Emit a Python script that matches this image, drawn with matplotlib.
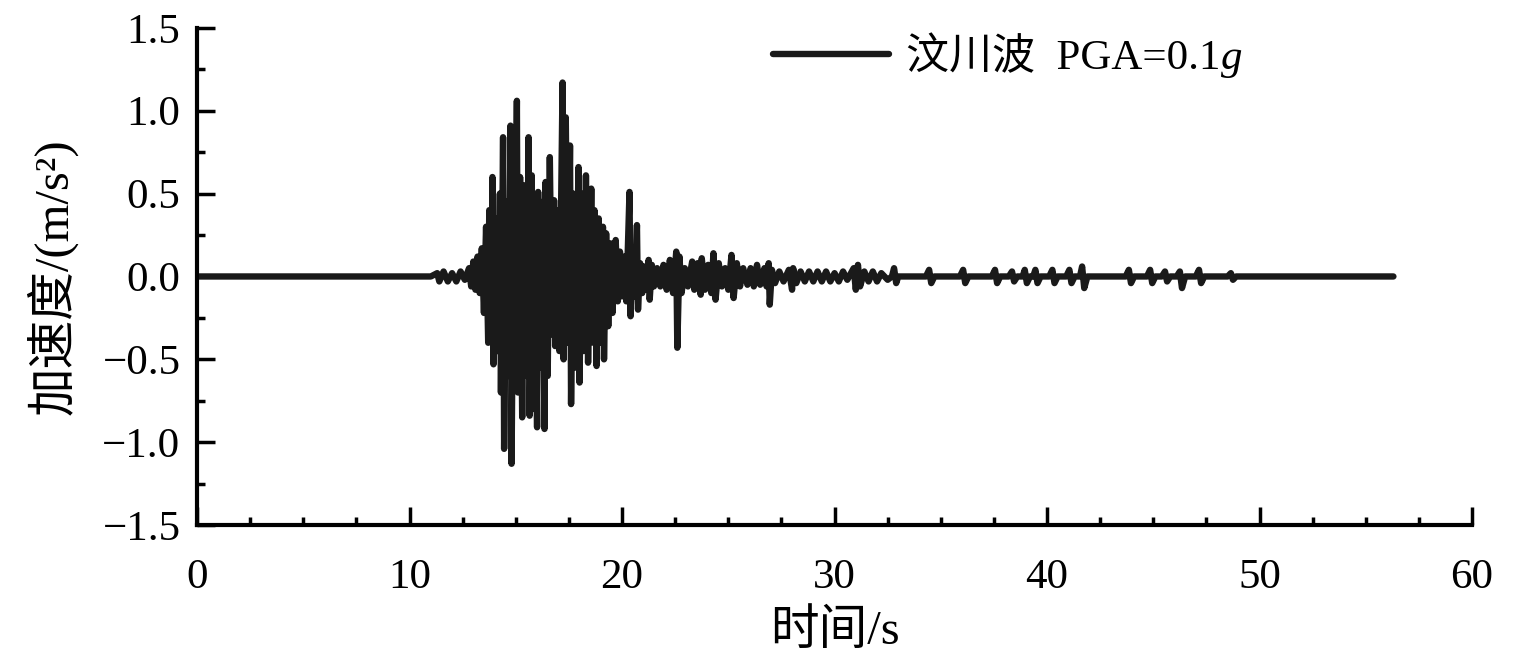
import matplotlib
matplotlib.use('Agg')
import matplotlib.pyplot as plt
from matplotlib.ticker import MultipleLocator

plt.rcParams['font.family'] = ['Liberation Serif', 'Noto Sans CJK SC']

# time (s) and acceleration (m/s^2), peaks
time = [0.0, 11.0, 11.3, 11.4, 11.6, 11.8, 12.0, 12.2, 12.4, 12.6, 12.8, 12.9,
        13.0, 13.1, 13.2, 13.3, 13.4, 13.5, 13.6, 13.7, 13.75, 13.85, 13.9, 13.95,
        14.05, 14.15, 14.25, 14.3, 14.4, 14.45, 14.55, 14.65, 14.75, 14.8, 14.9, 14.95,
        15.05, 15.1, 15.2, 15.3, 15.4, 15.5, 15.6, 15.65, 15.75, 15.8, 15.9, 16.0,
        16.05, 16.15, 16.25, 16.35, 16.4, 16.5, 16.6, 16.7, 16.8, 16.85, 16.95, 17.05,
        17.2, 17.25, 17.35, 17.45, 17.55, 17.6, 17.7, 17.8, 17.95, 18.0, 18.1, 18.2,
        18.3, 18.4, 18.55, 18.65, 18.7, 18.8, 18.9, 19.0, 19.1, 19.15, 19.25, 19.35,
        19.45, 19.55, 19.7, 19.8, 19.9, 20.0, 20.1, 20.2, 20.35, 20.4, 20.5, 20.6,
        20.7, 20.75, 20.85, 20.95, 21.05, 21.15, 21.25, 21.3, 21.4, 21.5, 21.65, 21.8,
        21.95, 22.1, 22.25, 22.4, 22.55, 22.6, 22.7, 22.8, 22.95, 23.1, 23.3, 23.4,
        23.55, 23.7, 23.75, 23.9, 24.05, 24.2, 24.3, 24.4, 24.55, 24.7, 24.85, 25.0,
        25.15, 25.25, 25.4, 25.55, 25.7, 25.9, 26.05, 26.2, 26.35, 26.5, 26.7, 26.8,
        26.9, 26.95, 27.05, 27.2, 27.4, 27.6, 27.85, 28.0, 28.05, 28.2, 28.4, 28.6,
        28.8, 29.0, 29.2, 29.4, 29.6, 29.8, 30.0, 30.2, 30.4, 30.6, 30.9, 31.0,
        31.1, 31.2, 31.4, 31.6, 31.8, 32.0, 32.2, 32.5, 32.7, 32.8, 32.9, 33.0,
        34.3, 34.45, 34.55, 34.7, 35.9, 36.05, 36.15, 36.3, 37.4, 37.55, 37.65, 37.8,
        38.2, 38.35, 38.45, 38.6, 38.85, 38.95, 39.05, 39.2, 39.35, 39.45, 39.55, 39.7,
        40.1, 40.25, 40.35, 40.5, 40.9, 41.05, 41.15, 41.3, 41.55, 41.65, 41.75, 41.9,
        43.7, 43.85, 43.95, 44.1, 44.7, 44.85, 44.95, 45.1, 45.4, 45.55, 45.65, 45.8,
        46.1, 46.25, 46.35, 46.5, 47.0, 47.15, 47.25, 47.4, 48.5, 48.65, 48.75, 48.9,
        56.3]
accel = [0.0, 0.0, 0.02, -0.03, 0.03, -0.03, 0.02, -0.03, 0.03, -0.02, 0.05, -0.06,
         0.09, -0.08, 0.12, -0.10, 0.17, -0.22, 0.30, -0.40, 0.40, -0.30, 0.60, -0.53,
         0.35, -0.45, 0.50, -0.70, 0.84, -1.04, 0.45, -0.60, 0.91, -1.13, 0.55, -0.50,
         1.06, -0.70, 0.60, -0.85, 0.55, -0.60, 0.84, -0.84, 0.61, -0.80, 0.45, -0.91,
         0.51, -0.55, 0.45, -0.92, 0.57, -0.60, 0.72, -0.35, 0.46, -0.42, 0.40, -0.45,
         1.17, -0.50, 0.96, -0.40, 0.79, -0.77, 0.50, -0.55, 0.66, -0.64, 0.50, -0.45,
         0.61, -0.52, 0.53, -0.40, 0.40, -0.54, 0.35, -0.40, 0.30, -0.50, 0.26, -0.30,
         0.20, -0.22, 0.22, -0.15, 0.15, -0.12, 0.12, -0.15, 0.51, -0.24, 0.15, -0.12,
         0.31, -0.20, 0.08, -0.10, 0.06, -0.08, 0.10, -0.14, 0.07, -0.06, 0.05, -0.06,
         0.07, -0.08, 0.10, -0.10, 0.15, -0.43, 0.12, -0.10, 0.05, -0.06, 0.09, -0.08,
         0.08, -0.11, 0.11, -0.08, 0.07, -0.10, 0.14, -0.14, 0.08, -0.06, 0.05, -0.08,
         0.13, -0.13, 0.08, -0.06, 0.05, -0.05, 0.05, -0.06, 0.07, -0.05, 0.05, -0.06,
         0.08, -0.17, 0.04, -0.04, 0.03, -0.03, 0.04, -0.08, 0.05, -0.04, 0.03, -0.03,
         0.03, -0.03, 0.03, -0.03, 0.03, -0.03, 0.02, -0.03, 0.03, -0.02, 0.05, -0.08,
         0.07, -0.06, 0.03, -0.03, 0.03, -0.03, 0.02, -0.02, 0.0, 0.05, -0.04, 0.0,
         0.0, 0.04, -0.04, 0.0, 0.0, 0.04, -0.04, 0.0, 0.0, 0.04, -0.04, 0.0,
         0.0, 0.03, -0.03, 0.0, 0.0, 0.04, -0.04, 0.0, 0.0, 0.04, -0.04, 0.0,
         0.0, 0.04, -0.04, 0.0, 0.0, 0.04, -0.04, 0.0, 0.0, 0.06, -0.07, 0.0,
         0.0, 0.04, -0.04, 0.0, 0.0, 0.04, -0.04, 0.0, 0.0, 0.03, -0.03, 0.0,
         0.0, 0.03, -0.07, 0.0, 0.0, 0.04, -0.04, 0.0, 0.0, 0.02, -0.02, 0.0,
         0.0]

ytick_vals = [-1.5, -1.0, -0.5, 0.0, 0.5, 1.0, 1.5]
ytick_text = ['\u22121.5', '\u22121.0', '\u22120.5', '0.0', '0.5', '1.0', '1.5']

fig = plt.figure(figsize=(15.16, 6.63), dpi=100)
ax = fig.add_axes([0.130, 0.208, 0.841, 0.750])

ax.plot(time, accel, color='#1a1a1a', lw=4.6, solid_joinstyle='round',
        solid_capstyle='round', label='汶川波  PGA=0.1')

ax.set_xlim(0, 60)
ax.set_ylim(-1.5, 1.5)
ax.xaxis.set_major_locator(MultipleLocator(10))
ax.xaxis.set_minor_locator(MultipleLocator(2.5))
ax.set_yticks(ytick_vals)
ax.set_yticklabels(ytick_text)
ax.yaxis.set_minor_locator(MultipleLocator(0.25))

for s in ['top', 'right']:
    ax.spines[s].set_visible(False)
for s in ['left', 'bottom']:
    ax.spines[s].set_linewidth(3)

ax.tick_params(which='major', direction='in', length=13, width=2.5, labelsize=31)
ax.tick_params(which='minor', direction='in', length=6, width=2.5)
ax.tick_params(axis='x', which='major', pad=24)
ax.tick_params(axis='y', which='major', pad=12)

ax.set_xlabel('时间/s', fontsize=35, labelpad=9)
ax.set_ylabel('加速度/(m/s²)', fontsize=35, labelpad=18)

leg = ax.legend(loc='center left', bbox_to_anchor=(773 / 1516, 0.9125),
                bbox_transform=fig.transFigure, frameon=False, fontsize=31,
                handlelength=2.7, handletextpad=0.4, borderpad=0, borderaxespad=0)

# italic g after the legend text
fig.canvas.draw()
bb = leg.get_texts()[0].get_window_extent()
fig.text(bb.x1 / fig.bbox.width, bb.y0 / fig.bbox.height, 'g', fontsize=31,
         style='italic', family='Liberation Serif', va='bottom', ha='left')

fig.savefig('out.png', dpi=100)
